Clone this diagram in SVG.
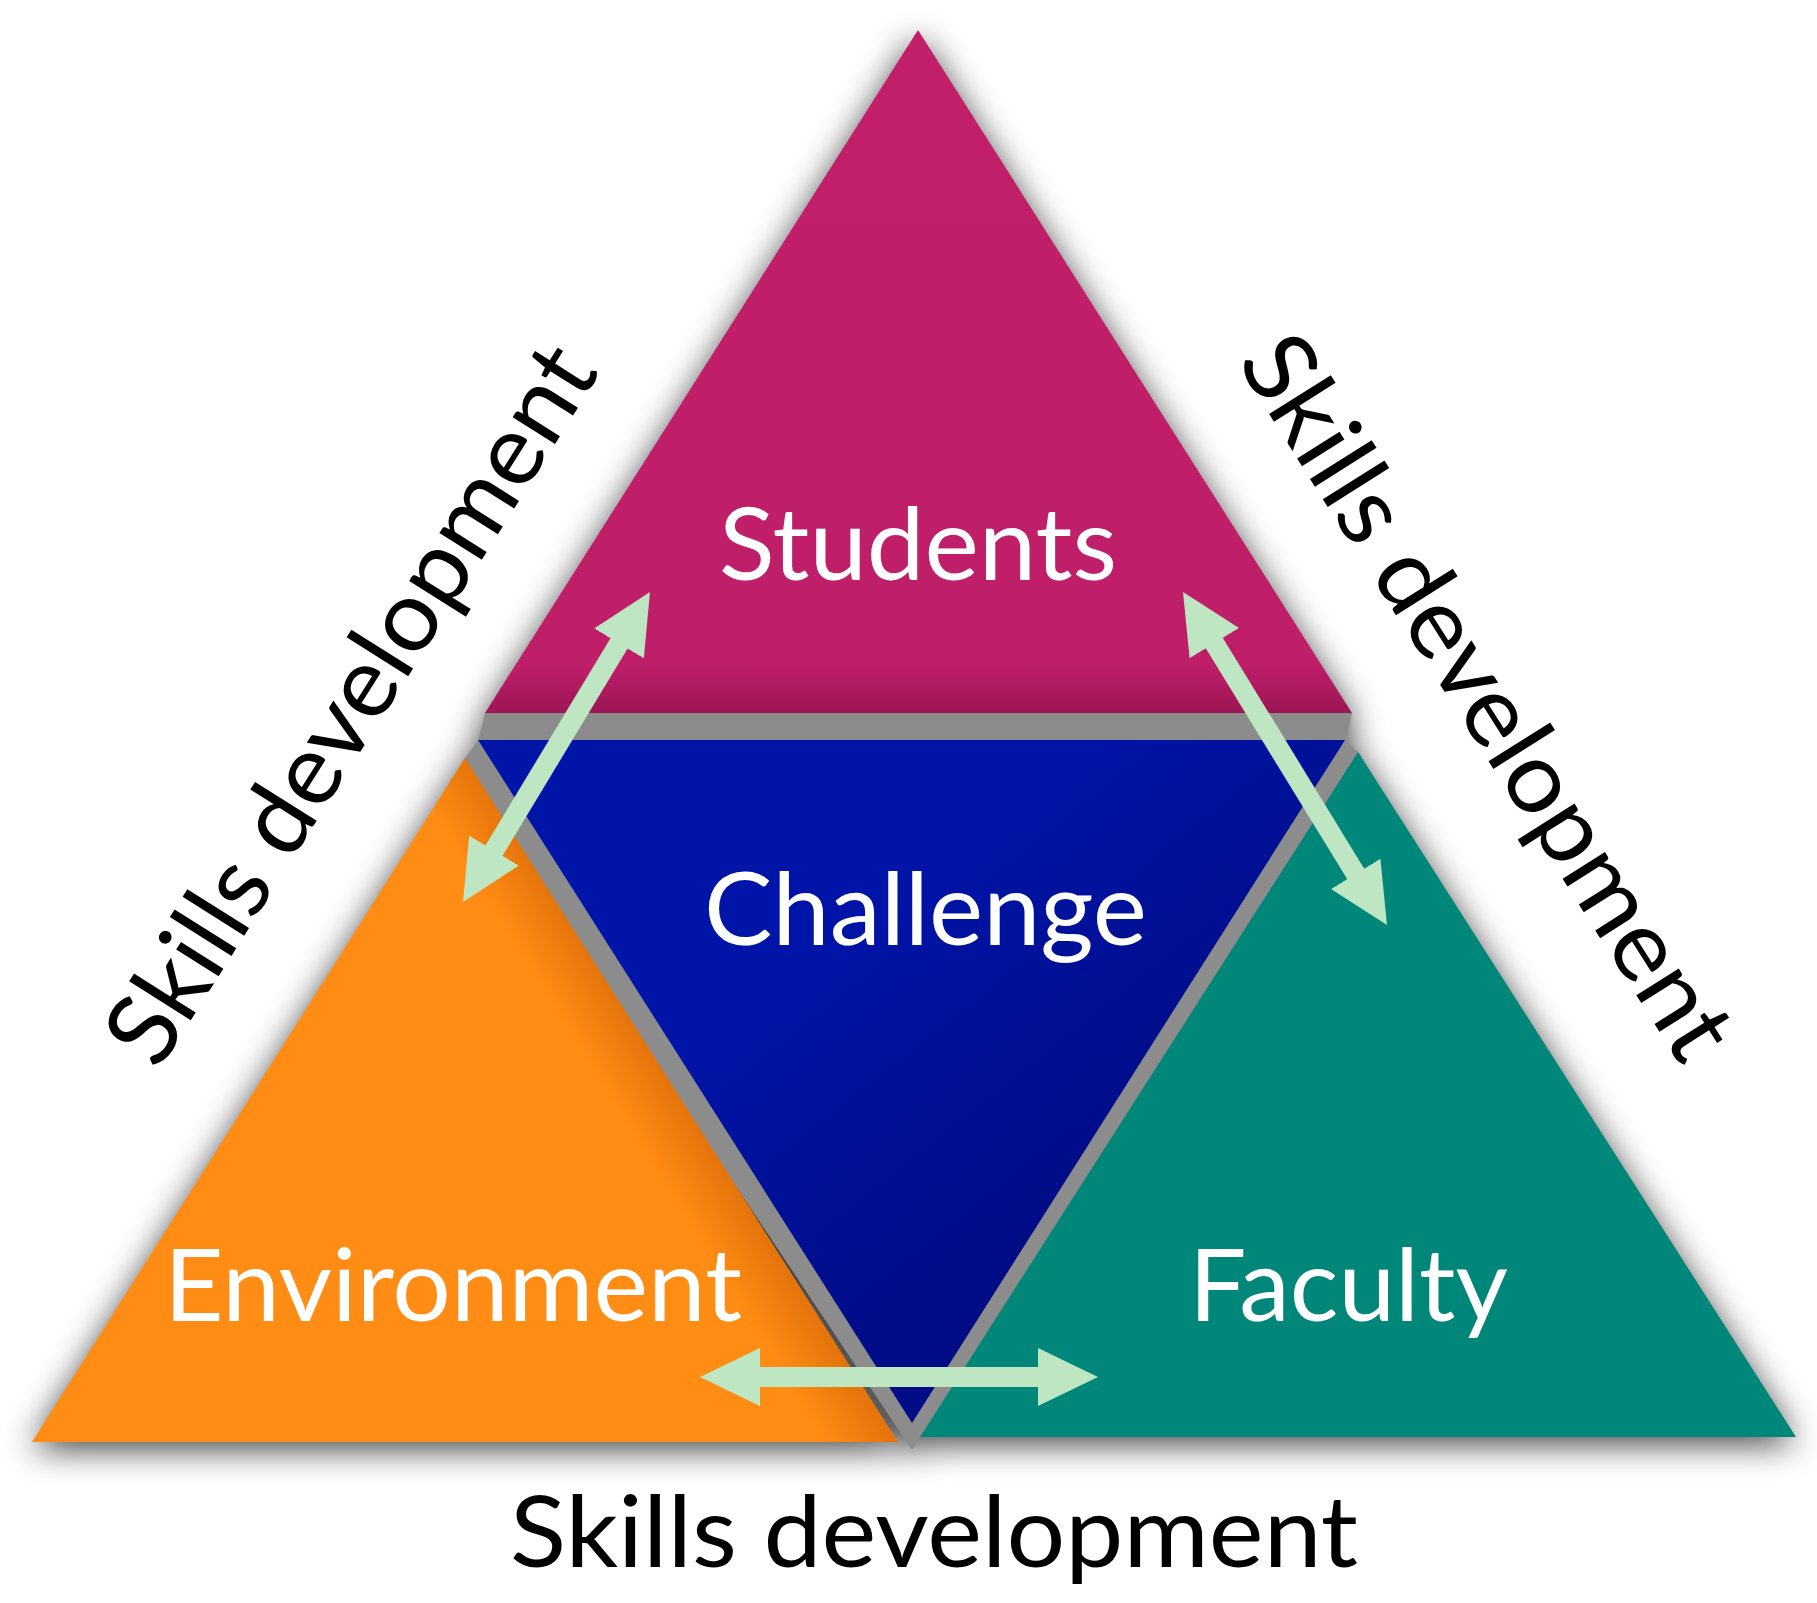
<svg xmlns="http://www.w3.org/2000/svg" xmlns:xlink="http://www.w3.org/1999/xlink" width="1817" height="1603" viewBox="0 0 1817 1603">
  <style>
    .lbl { font-family: Lato, "Open Sans", "Liberation Sans", sans-serif; fill: #ffffff; font-size: 100px; }
    .skill { font-family: Lato, "Open Sans", "Liberation Sans", sans-serif; fill: #000000; font-size: 99px; }
    .conn { stroke: #BEE6C2; stroke-width: 20; fill: none; marker-start: url(#head); marker-end: url(#head); }
  </style>
  <defs>
    <polygon id="pS" points="918,30 1352,713 485,713"/>
    <polygon id="pC" points="478,740 1345,740 912,1423"/>
    <polygon id="pE" points="465,758 898,1442 32,1442"/>
    <polygon id="pF" points="1358,752 1796,1437 920,1437"/>
    <polygon id="pG" points="485,713 1352,713 1346,741 1358,752 1366,765 912,1450 458,770 465,758 478,741"/>
    <filter id="blur" x="-10%" y="-10%" width="120%" height="120%">
      <feGaussianBlur stdDeviation="17"/>
      <feOffset dx="0" dy="7"/>
    </filter>
    <linearGradient id="gS" x1="0" y1="30" x2="0" y2="713" gradientUnits="userSpaceOnUse">
      <stop offset="0" stop-color="#C21F6A"/>
      <stop offset="0.93" stop-color="#BF1E69"/>
      <stop offset="1" stop-color="#9C1655"/>
    </linearGradient>
    <linearGradient id="gC" x1="780" y1="960" x2="1010" y2="1250" gradientUnits="userSpaceOnUse">
      <stop offset="0" stop-color="#0014A8"/>
      <stop offset="1" stop-color="#000C86"/>
    </linearGradient>
    <linearGradient id="gE" x1="630" y1="1132" x2="681.5" y2="1100" gradientUnits="userSpaceOnUse">
      <stop offset="0" stop-color="#FF8C14"/>
      <stop offset="1" stop-color="#E4740B"/>
    </linearGradient>
    <marker id="head" markerUnits="userSpaceOnUse" markerWidth="60" markerHeight="58" viewBox="0 0 60 58" refX="20" refY="29" orient="auto-start-reverse">
      <path d="M0,0 L60,29 L0,58 Z" fill="#BEE6C2"/>
    </marker>
  </defs>

  <rect width="1817" height="1603" fill="#ffffff"/>

  <g id="shadow" filter="url(#blur)" fill="#000" opacity="0.75">
    <use xlink:href="#pS"/>
    <use xlink:href="#pE"/>
    <use xlink:href="#pF"/>
    <use xlink:href="#pG"/>
  </g>

  <g id="divider">
    <use xlink:href="#pG" fill="#8C8C8C"/>
  </g>

  <g id="challenge">
    <use xlink:href="#pC" fill="url(#gC)"/>
    <text class="lbl" x="704" y="945" textLength="443" lengthAdjust="spacingAndGlyphs">Challenge</text>
  </g>

  <g id="environment">
    <use xlink:href="#pE" fill="url(#gE)"/>
    <text class="lbl" x="164" y="1321" textLength="578" lengthAdjust="spacingAndGlyphs">Environment</text>
  </g>

  <g id="faculty">
    <use xlink:href="#pF" fill="#00877A"/>
    <text class="lbl" x="1189" y="1321" textLength="319" lengthAdjust="spacingAndGlyphs">Faculty</text>
  </g>

  <g id="students">
    <use xlink:href="#pS" fill="url(#gS)"/>
    <text class="lbl" x="719" y="580" textLength="398" lengthAdjust="spacingAndGlyphs">Students</text>
  </g>

  <g id="connectors">
    <line class="conn" x1="629.3" y1="626.3" x2="483.7" y2="867.7"/>
    <line class="conn" x1="1203.9" y1="626.1" x2="1366.1" y2="890.9"/>
    <line class="conn" x1="740" y1="1377" x2="1058" y2="1377"/>
  </g>

  <g id="labels">
    <text class="skill" transform="translate(158,1072) rotate(-57.7)" x="0" y="0" textLength="828" lengthAdjust="spacingAndGlyphs">Skills development</text>
    <text class="skill" transform="translate(1236,362) rotate(57.7)" x="0" y="0" textLength="835" lengthAdjust="spacingAndGlyphs">Skills development</text>
    <text class="skill" x="510" y="1567" textLength="848" lengthAdjust="spacingAndGlyphs">Skills development</text>
  </g>
</svg>
